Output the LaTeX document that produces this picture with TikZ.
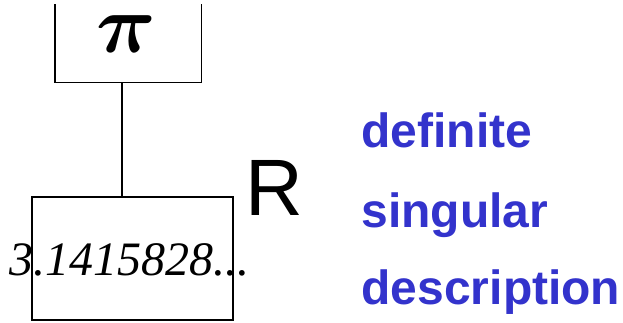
\documentclass[tikz,border=0pt]{standalone}
\usepackage{fontspec}
\usepackage{bm}
\setmainfont{Liberation Serif}
\setsansfont{Liberation Sans}
\usetikzlibrary{positioning}
\definecolor{descblue}{RGB}{51,51,204}

\begin{document}
\begin{tikzpicture}[x=1pt,y=-1pt,line width=1.2pt,
    box/.style={minimum width=#1, inner sep=0pt},
    word/.style={anchor=base west, inner sep=0pt, font=\sffamily\bfseries\fontsize{48}{48}\selectfont, text=descblue}]
    \useasboundingbox (0,0) rectangle (623,323);

    % referent box (top edge cut off) and the value box
    \node[box=145pt, minimum height=77pt] (pi) at (128,43.5) {};
    \node[anchor=base, inner sep=0pt, scale=4, font=\fontsize{20}{20}\selectfont] (pisym) at (126,53) {$\bm{\pi}$};
    \node[box=201pt, minimum height=123pt, draw] (val) at (132.5,258.5) {};
    \node[anchor=base west, inner sep=0pt, font=\itshape\fontsize{48}{48}\selectfont] (num) at (9,275) {3.1415828...};
    \node[anchor=base west, inner sep=0pt, font=\sffamily\fontsize{80}{80}\selectfont] (rel) at (245,215) {R};

    \draw (pi.north west) -- (pi.south west) -- (pi.south east) -- (pi.north east);
    \draw ([xshift=-6pt]pi.south) -- ([xshift=-6pt]pi.south |- val.north);

    \node[word] (def) at (361,148) {definite};
    \node[word] (sing) at (361,227) {singular};
    \node[word] (descr) at (361,304) {description};
\end{tikzpicture}
\end{document}
